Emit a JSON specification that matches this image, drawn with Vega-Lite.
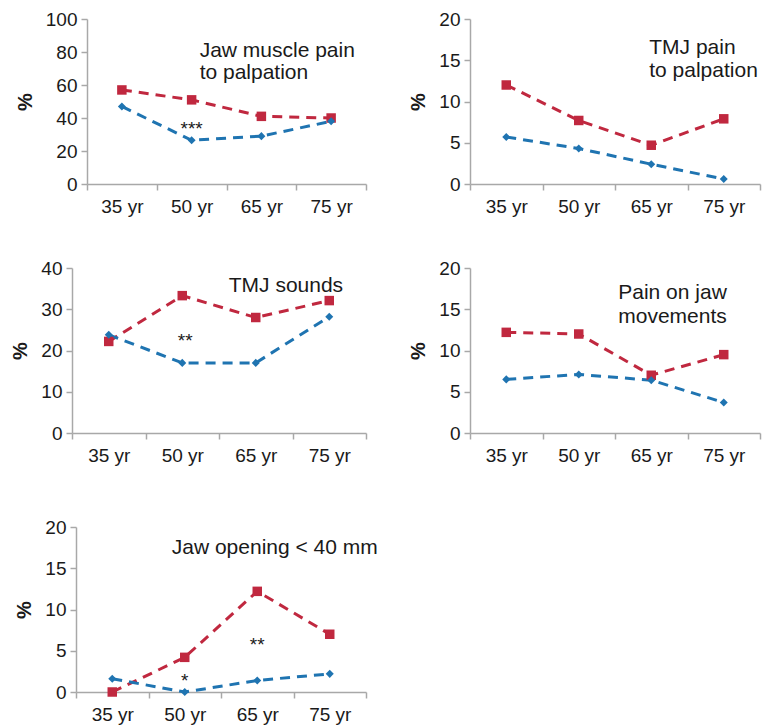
{
  "$schema": "https://vega.github.io/schema/vega-lite/v6.json",
  "background": "white",
  "padding": {"left": 10, "top": 10, "right": 5, "bottom": 5},
  "datasets": {
    "series": [
      {"panel": "p1", "group": "women", "age": "35 yr", "pct": 57},
      {"panel": "p1", "group": "women", "age": "50 yr", "pct": 51},
      {"panel": "p1", "group": "women", "age": "65 yr", "pct": 41},
      {"panel": "p1", "group": "women", "age": "75 yr", "pct": 40},
      {"panel": "p1", "group": "men", "age": "35 yr", "pct": 47},
      {"panel": "p1", "group": "men", "age": "50 yr", "pct": 26.5},
      {"panel": "p1", "group": "men", "age": "65 yr", "pct": 29},
      {"panel": "p1", "group": "men", "age": "75 yr", "pct": 38},
      {"panel": "p2", "group": "women", "age": "35 yr", "pct": 12.0},
      {"panel": "p2", "group": "women", "age": "50 yr", "pct": 7.7},
      {"panel": "p2", "group": "women", "age": "65 yr", "pct": 4.7},
      {"panel": "p2", "group": "women", "age": "75 yr", "pct": 7.9},
      {"panel": "p2", "group": "men", "age": "35 yr", "pct": 5.7},
      {"panel": "p2", "group": "men", "age": "50 yr", "pct": 4.3},
      {"panel": "p2", "group": "men", "age": "65 yr", "pct": 2.4},
      {"panel": "p2", "group": "men", "age": "75 yr", "pct": 0.6},
      {"panel": "p3", "group": "women", "age": "35 yr", "pct": 22.2},
      {"panel": "p3", "group": "women", "age": "50 yr", "pct": 33.3},
      {"panel": "p3", "group": "women", "age": "65 yr", "pct": 28.0},
      {"panel": "p3", "group": "women", "age": "75 yr", "pct": 32.1},
      {"panel": "p3", "group": "men", "age": "35 yr", "pct": 23.8},
      {"panel": "p3", "group": "men", "age": "50 yr", "pct": 17.0},
      {"panel": "p3", "group": "men", "age": "65 yr", "pct": 17.0},
      {"panel": "p3", "group": "men", "age": "75 yr", "pct": 28.2},
      {"panel": "p4", "group": "women", "age": "35 yr", "pct": 12.2},
      {"panel": "p4", "group": "women", "age": "50 yr", "pct": 12.0},
      {"panel": "p4", "group": "women", "age": "65 yr", "pct": 7.0},
      {"panel": "p4", "group": "women", "age": "75 yr", "pct": 9.5},
      {"panel": "p4", "group": "men", "age": "35 yr", "pct": 6.5},
      {"panel": "p4", "group": "men", "age": "50 yr", "pct": 7.1},
      {"panel": "p4", "group": "men", "age": "65 yr", "pct": 6.4},
      {"panel": "p4", "group": "men", "age": "75 yr", "pct": 3.7},
      {"panel": "p5", "group": "women", "age": "35 yr", "pct": 0},
      {"panel": "p5", "group": "women", "age": "50 yr", "pct": 4.2},
      {"panel": "p5", "group": "women", "age": "65 yr", "pct": 12.2},
      {"panel": "p5", "group": "women", "age": "75 yr", "pct": 7.0},
      {"panel": "p5", "group": "men", "age": "35 yr", "pct": 1.6},
      {"panel": "p5", "group": "men", "age": "50 yr", "pct": 0},
      {"panel": "p5", "group": "men", "age": "65 yr", "pct": 1.4},
      {"panel": "p5", "group": "men", "age": "75 yr", "pct": 2.2}
    ],
    "notes": [
      {"panel": "p1", "kind": "title", "age": "50 yr", "pct": 76.8, "label": "Jaw muscle pain\nto palpation"},
      {"panel": "p1", "kind": "star", "age": "50 yr", "pct": 30, "label": "***"},
      {"panel": "p2", "kind": "title", "age": "65 yr", "pct": 15.7, "label": "TMJ pain\n\u2002to palpation"},
      {"panel": "p3", "kind": "title", "age": "65 yr", "pct": 34.3, "label": "TMJ sounds"},
      {"panel": "p3", "kind": "star", "age": "50 yr", "pct": 20.8, "label": "**"},
      {"panel": "p4", "kind": "title", "age": "65 yr", "pct": 16.3, "label": "Pain on jaw\nmovements"},
      {"panel": "p5", "kind": "title", "age": "50 yr", "pct": 16.7, "label": "Jaw opening < 40 mm"},
      {"panel": "p5", "kind": "star", "age": "50 yr", "pct": 0.55, "label": "*"},
      {"panel": "p5", "kind": "star", "age": "65 yr", "pct": 5.0, "label": "**"}
    ]
  },
  "vconcat": [
    {
      "vconcat": [
        {
          "hconcat": [
            {
              "width": 294, "height": 165,
              "layer": [
                {"data": {"name": "series"}, "transform": [{"filter": "datum.panel === 'p1'"}],
                 "mark": {"type": "line", "strokeDash": [10, 7], "strokeWidth": 3},
                 "encoding": {
                   "x": {"field": "age", "type": "ordinal", "title": null, "scale": {"type": "band", "domain": ["35 yr", "50 yr", "65 yr", "75 yr"], "range": [15, 294], "paddingInner": 0, "paddingOuter": 0}},
                   "y": {"field": "pct", "type": "quantitative", "title": "%", "scale": {"domain": [0, 100], "nice": false}, "axis": {"values": [0, 20, 40, 60, 80, 100], "tickCount": 6, "labelOverlap": false, "offset": -15}},
                   "color": {"field": "group", "type": "nominal", "scale": {"domain": ["women", "men"], "range": ["#c0283f", "#1f74b1"]}, "legend": null}
                 }},
                {"data": {"name": "series"}, "transform": [{"filter": "datum.panel === 'p1'"}],
                 "mark": {"type": "point", "filled": true, "opacity": 1},
                 "encoding": {
                   "x": {"field": "age", "type": "ordinal"},
                   "y": {"field": "pct", "type": "quantitative"},
                   "color": {"field": "group", "type": "nominal", "legend": null},
                   "shape": {"field": "group", "type": "nominal", "scale": {"domain": ["women", "men"], "range": ["square", "diamond"]}, "legend": null},
                   "size": {"field": "group", "type": "nominal", "scale": {"domain": ["women", "men"], "range": [90, 65]}, "legend": null}
                 }},
                {"data": {"name": "notes"}, "transform": [{"filter": "datum.panel === 'p1' && datum.kind === 'title'"}],
                 "mark": {"type": "text", "align": "left", "baseline": "alphabetic", "lineBreak": "\n", "lineHeight": 22, "fontSize": 21, "dx": 8},
                 "encoding": {"x": {"field": "age", "type": "ordinal"}, "y": {"field": "pct", "type": "quantitative"}, "text": {"field": "label"}}},
                {"data": {"name": "notes"}, "transform": [{"filter": "datum.panel === 'p1' && datum.kind === 'star'"}],
                 "mark": {"type": "text", "align": "center", "baseline": "alphabetic", "fontSize": 19},
                 "encoding": {"x": {"field": "age", "type": "ordinal"}, "y": {"field": "pct", "type": "quantitative"}, "text": {"field": "label"}}}
              ]
            },
            {
              "width": 290, "height": 165,
              "layer": [
                {"data": {"name": "series"}, "transform": [{"filter": "datum.panel === 'p2'"}],
                 "mark": {"type": "line", "strokeDash": [10, 7], "strokeWidth": 3},
                 "encoding": {
                   "x": {"field": "age", "type": "ordinal", "title": null, "scale": {"type": "band", "domain": ["35 yr", "50 yr", "65 yr", "75 yr"], "paddingInner": 0, "paddingOuter": 0}},
                   "y": {"field": "pct", "type": "quantitative", "title": "%", "scale": {"domain": [0, 20], "nice": false}, "axis": {"values": [0, 5, 10, 15, 20]}},
                   "color": {"field": "group", "type": "nominal", "scale": {"domain": ["women", "men"], "range": ["#c0283f", "#1f74b1"]}, "legend": null}
                 }},
                {"data": {"name": "series"}, "transform": [{"filter": "datum.panel === 'p2'"}],
                 "mark": {"type": "point", "filled": true, "opacity": 1},
                 "encoding": {
                   "x": {"field": "age", "type": "ordinal"},
                   "y": {"field": "pct", "type": "quantitative"},
                   "color": {"field": "group", "type": "nominal", "legend": null},
                   "shape": {"field": "group", "type": "nominal", "scale": {"domain": ["women", "men"], "range": ["square", "diamond"]}, "legend": null},
                   "size": {"field": "group", "type": "nominal", "scale": {"domain": ["women", "men"], "range": [90, 65]}, "legend": null}
                 }},
                {"data": {"name": "notes"}, "transform": [{"filter": "datum.panel === 'p2' && datum.kind === 'title'"}],
                 "mark": {"type": "text", "align": "left", "baseline": "alphabetic", "lineBreak": "\n", "lineHeight": 23, "fontSize": 21, "dx": -2},
                 "encoding": {"x": {"field": "age", "type": "ordinal"}, "y": {"field": "pct", "type": "quantitative"}, "text": {"field": "label"}}}
              ]
            }
          ],
          "spacing": 41
        },
        {
          "hconcat": [
            {
              "width": 294, "height": 165,
              "layer": [
                {"data": {"name": "series"}, "transform": [{"filter": "datum.panel === 'p3'"}],
                 "mark": {"type": "line", "strokeDash": [10, 7], "strokeWidth": 3},
                 "encoding": {
                   "x": {"field": "age", "type": "ordinal", "title": null, "scale": {"type": "band", "domain": ["35 yr", "50 yr", "65 yr", "75 yr"], "paddingInner": 0, "paddingOuter": 0}},
                   "y": {"field": "pct", "type": "quantitative", "title": "%", "scale": {"domain": [0, 40], "nice": false}, "axis": {"values": [0, 10, 20, 30, 40]}},
                   "color": {"field": "group", "type": "nominal", "scale": {"domain": ["women", "men"], "range": ["#c0283f", "#1f74b1"]}, "legend": null}
                 }},
                {"data": {"name": "series"}, "transform": [{"filter": "datum.panel === 'p3'"}],
                 "mark": {"type": "point", "filled": true, "opacity": 1},
                 "encoding": {
                   "x": {"field": "age", "type": "ordinal"},
                   "y": {"field": "pct", "type": "quantitative"},
                   "color": {"field": "group", "type": "nominal", "legend": null},
                   "shape": {"field": "group", "type": "nominal", "scale": {"domain": ["women", "men"], "range": ["square", "diamond"]}, "legend": null},
                   "size": {"field": "group", "type": "nominal", "scale": {"domain": ["women", "men"], "range": [90, 65]}, "legend": null}
                 }},
                {"data": {"name": "notes"}, "transform": [{"filter": "datum.panel === 'p3' && datum.kind === 'title'"}],
                 "mark": {"type": "text", "align": "left", "baseline": "alphabetic", "fontSize": 21, "dx": -27},
                 "encoding": {"x": {"field": "age", "type": "ordinal"}, "y": {"field": "pct", "type": "quantitative"}, "text": {"field": "label"}}},
                {"data": {"name": "notes"}, "transform": [{"filter": "datum.panel === 'p3' && datum.kind === 'star'"}],
                 "mark": {"type": "text", "align": "center", "baseline": "alphabetic", "fontSize": 19, "dx": 3},
                 "encoding": {"x": {"field": "age", "type": "ordinal"}, "y": {"field": "pct", "type": "quantitative"}, "text": {"field": "label"}}}
              ]
            },
            {
              "width": 290, "height": 165,
              "layer": [
                {"data": {"name": "series"}, "transform": [{"filter": "datum.panel === 'p4'"}],
                 "mark": {"type": "line", "strokeDash": [10, 7], "strokeWidth": 3},
                 "encoding": {
                   "x": {"field": "age", "type": "ordinal", "title": null, "scale": {"type": "band", "domain": ["35 yr", "50 yr", "65 yr", "75 yr"], "paddingInner": 0, "paddingOuter": 0}},
                   "y": {"field": "pct", "type": "quantitative", "title": "%", "scale": {"domain": [0, 20], "nice": false}, "axis": {"values": [0, 5, 10, 15, 20]}},
                   "color": {"field": "group", "type": "nominal", "scale": {"domain": ["women", "men"], "range": ["#c0283f", "#1f74b1"]}, "legend": null}
                 }},
                {"data": {"name": "series"}, "transform": [{"filter": "datum.panel === 'p4'"}],
                 "mark": {"type": "point", "filled": true, "opacity": 1},
                 "encoding": {
                   "x": {"field": "age", "type": "ordinal"},
                   "y": {"field": "pct", "type": "quantitative"},
                   "color": {"field": "group", "type": "nominal", "legend": null},
                   "shape": {"field": "group", "type": "nominal", "scale": {"domain": ["women", "men"], "range": ["square", "diamond"]}, "legend": null},
                   "size": {"field": "group", "type": "nominal", "scale": {"domain": ["women", "men"], "range": [90, 65]}, "legend": null}
                 }},
                {"data": {"name": "notes"}, "transform": [{"filter": "datum.panel === 'p4' && datum.kind === 'title'"}],
                 "mark": {"type": "text", "align": "left", "baseline": "alphabetic", "lineBreak": "\n", "lineHeight": 24, "fontSize": 21, "dx": -33},
                 "encoding": {"x": {"field": "age", "type": "ordinal"}, "y": {"field": "pct", "type": "quantitative"}, "text": {"field": "label"}}}
              ]
            }
          ],
          "spacing": 41
        }
      ],
      "spacing": 43
    },
    {
      "width": 294, "height": 165,
      "layer": [
        {"data": {"name": "series"}, "transform": [{"filter": "datum.panel === 'p5'"}],
         "mark": {"type": "line", "strokeDash": [10, 7], "strokeWidth": 3},
         "encoding": {
           "x": {"field": "age", "type": "ordinal", "title": null, "scale": {"type": "band", "domain": ["35 yr", "50 yr", "65 yr", "75 yr"], "range": [4, 294], "paddingInner": 0, "paddingOuter": 0}},
           "y": {"field": "pct", "type": "quantitative", "title": "%", "scale": {"domain": [0, 20], "nice": false}, "axis": {"values": [0, 5, 10, 15, 20], "offset": -4}},
           "color": {"field": "group", "type": "nominal", "scale": {"domain": ["women", "men"], "range": ["#c0283f", "#1f74b1"]}, "legend": null}
         }},
        {"data": {"name": "series"}, "transform": [{"filter": "datum.panel === 'p5'"}],
         "mark": {"type": "point", "filled": true, "opacity": 1},
         "encoding": {
           "x": {"field": "age", "type": "ordinal"},
           "y": {"field": "pct", "type": "quantitative"},
           "color": {"field": "group", "type": "nominal", "legend": null},
           "shape": {"field": "group", "type": "nominal", "scale": {"domain": ["women", "men"], "range": ["square", "diamond"]}, "legend": null},
           "size": {"field": "group", "type": "nominal", "scale": {"domain": ["women", "men"], "range": [90, 65]}, "legend": null}
         }},
        {"data": {"name": "notes"}, "transform": [{"filter": "datum.panel === 'p5' && datum.kind === 'title'"}],
         "mark": {"type": "text", "align": "left", "baseline": "alphabetic", "fontSize": 21, "dx": -13},
         "encoding": {"x": {"field": "age", "type": "ordinal"}, "y": {"field": "pct", "type": "quantitative"}, "text": {"field": "label"}}},
        {"data": {"name": "notes"}, "transform": [{"filter": "datum.panel === 'p5' && datum.kind === 'star'"}],
         "mark": {"type": "text", "align": "center", "baseline": "alphabetic", "fontSize": 19},
         "encoding": {"x": {"field": "age", "type": "ordinal"}, "y": {"field": "pct", "type": "quantitative"}, "text": {"field": "label"}}}
      ]
    }
  ],
  "spacing": 53,
  "config": {
    "font": "Liberation Sans",
    "view": {"stroke": null},
    "axis": {"grid": false, "labelOverlap": false, "domainColor": "#a8a8a8", "tickColor": "#a8a8a8", "domainWidth": 1.5, "tickWidth": 1.5, "labelFont": "Liberation Sans", "labelFontSize": 19, "labelColor": "#1a1a1a", "titleFont": "Liberation Sans", "titleFontSize": 20, "titleFontWeight": "bold", "titleColor": "#1a1a1a"},
    "axisX": {"tickBand": "extent", "tickSize": 6, "labelPadding": 7, "labelAngle": 0},
    "axisY": {"tickSize": 6, "labelPadding": 4, "titlePadding": 10},
    "text": {"font": "Liberation Sans", "color": "#1a1a1a"}
  }
}
